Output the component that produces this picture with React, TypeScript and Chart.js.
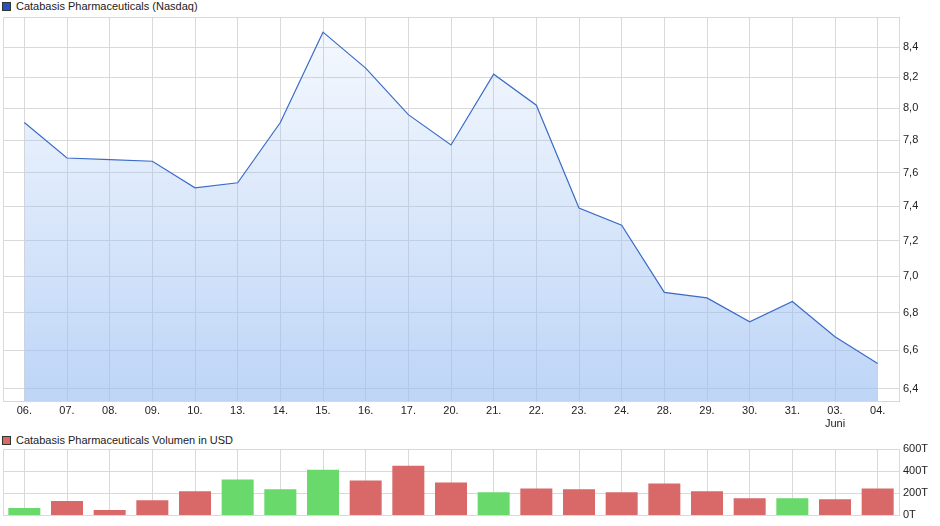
import React, { useEffect, useRef } from "react";
import { Chart, registerables } from "chart.js";

Chart.register(...registerables);

const categories: (string | string[])[] = [
  "06.", "07.", "08.", "09.", "10.", "13.", "14.", "15.", "16.", "17.", "20.",
  "21.", "22.", "23.", "24.", "28.", "29.", "30.", "31.", ["03.", "Juni"], "04.",
];
const prices = [
  7.91, 7.69, 7.68, 7.67, 7.51, 7.54, 7.91, 8.5, 8.26, 7.96, 7.77,
  8.22, 8.02, 7.39, 7.29, 6.91, 6.88, 6.75, 6.86, 6.67, 6.53,
];
const volumesT = [
  67, 129, 49, 138, 218, 324, 236, 413, 316, 449, 298,
  209, 244, 236, 209, 289, 218, 156, 156, 147, 244,
];
const volumeUp = [
  true, false, false, false, false, true, true, true, false, false, false,
  true, false, false, false, false, false, false, true, false, false,
];
const priceTicks = [6.4, 6.6, 6.8, 7.0, 7.2, 7.4, 7.6, 7.8, 8.0, 8.2, 8.4];
const priceMin = 6.338;
const priceMax = 8.603;
const volumeTicks = [0, 200000, 400000, 600000];

const FONT = "'Liberation Sans', Arial, sans-serif";
const GRID = "#d9d9d9";
const TEXT = "#222222";
const LINE = "#3a6cc8";
const RED = "#d96868";
const GREEN = "#68d96a";

const frame = {
  id: "frame",
  beforeDatasetsDraw(chart: any) {
    const { ctx, chartArea: a } = chart;
    ctx.save();
    ctx.strokeStyle = GRID;
    ctx.lineWidth = 1;
    ctx.beginPath();
    ctx.moveTo(Math.round(a.left) + 0.5, Math.round(a.bottom) + 0.5);
    ctx.lineTo(Math.round(a.left) + 0.5, Math.round(a.top) + 0.5);
    ctx.lineTo(Math.round(a.right) + 0.5, Math.round(a.top) + 0.5);
    ctx.stroke();
    ctx.restore();
  },
};

function Legend({ color, text, top }: { color: string; text: string; top: number }) {
  return (
    <div
      style={{
        position: "absolute",
        left: 2,
        top,
        height: 12,
        display: "flex",
        alignItems: "center",
        fontFamily: FONT,
        fontSize: 11,
        color: TEXT,
        whiteSpace: "nowrap",
      }}
    >
      <span
        style={{
          display: "inline-block",
          width: 7,
          height: 7,
          background: color,
          border: "1px solid #333",
          marginRight: 5,
        }}
      />
      <span>{text}</span>
    </div>
  );
}

export default function App() {
  const priceRef = useRef<HTMLCanvasElement>(null);
  const volRef = useRef<HTMLCanvasElement>(null);

  useEffect(() => {
    document.body.style.margin = "0";
    Chart.defaults.font.family = FONT;
    Chart.defaults.font.size = 11;
    Chart.defaults.color = TEXT;

    const priceChart = new Chart(priceRef.current!, {
      type: "line",
      data: {
        labels: categories,
        datasets: [
          {
            data: prices,
            borderColor: LINE,
            borderWidth: 1.2,
            pointRadius: 0,
            tension: 0,
            fill: "start",
            backgroundColor: (ctx: any) => {
              const { chart } = ctx;
              const a = chart.chartArea;
              if (!a) return "rgba(155,191,243,0.5)";
              const g = chart.ctx.createLinearGradient(0, a.top, 0, a.bottom);
              g.addColorStop(0, "rgba(155,191,243,0.08)");
              g.addColorStop(1, "rgba(155,191,243,0.66)");
              return g;
            },
          },
        ],
      },
      options: {
        animation: false,
        responsive: false,
        maintainAspectRatio: false,
        layout: { padding: { left: 3, top: 17, right: 0, bottom: 3 } },
        plugins: { legend: { display: false }, tooltip: { enabled: false } },
        scales: {
          x: {
            type: "category",
            offset: true,
            grid: { offset: false, color: GRID, drawTicks: false },
            border: { color: GRID },
            ticks: { padding: 3, maxRotation: 0, autoSkip: false, color: TEXT },
            afterFit: (s: any) => {
              s.height = 26;
            },
          },
          y: {
            type: "logarithmic",
            position: "right",
            bounds: "data",
            min: priceMin,
            max: priceMax,
            grid: { color: GRID, drawTicks: false },
            border: { color: GRID },
            afterBuildTicks: (s: any) => {
              s.ticks = priceTicks.map((v) => ({ value: v }));
              s.min = priceMin;
              s.max = priceMax;
            },
            ticks: {
              padding: 4,
              color: TEXT,
              callback: (v: any) => Number(v).toFixed(1).replace(".", ","),
            },
            afterFit: (s: any) => {
              s.width = 41;
            },
          },
        },
      },
      plugins: [frame],
    } as any);

    const volChart = new Chart(volRef.current!, {
      type: "bar",
      data: {
        labels: categories,
        datasets: [
          {
            data: volumesT.map((v) => v * 1000),
            backgroundColor: volumeUp.map((u) => (u ? GREEN : RED)),
            categoryPercentage: 1,
            barPercentage: 0.75,
          },
        ],
      },
      options: {
        animation: false,
        responsive: false,
        maintainAspectRatio: false,
        layout: { padding: { left: 3, top: 19, right: 0, bottom: 9 } },
        plugins: { legend: { display: false }, tooltip: { enabled: false } },
        scales: {
          x: {
            type: "category",
            offset: true,
            grid: { offset: false, color: GRID, drawTicks: false },
            border: { color: GRID },
            ticks: { display: false },
            afterFit: (s: any) => {
              s.height = 0;
            },
          },
          y: {
            position: "right",
            min: 0,
            max: 600000,
            grid: { color: GRID, drawTicks: false },
            border: { color: GRID },
            afterBuildTicks: (s: any) => {
              s.ticks = volumeTicks.map((v) => ({ value: v }));
            },
            ticks: {
              padding: 4,
              color: TEXT,
              callback: (v: any) => Math.round(Number(v) / 1000) + "T",
            },
            afterFit: (s: any) => {
              s.width = 41;
            },
          },
        },
      },
      plugins: [frame],
    } as any);

    return () => {
      priceChart.destroy();
      volChart.destroy();
    };
  }, []);

  return (
    <div style={{ position: "relative", width: 940, height: 526, background: "#fff", overflow: "hidden" }}>
      <Legend color="#2255bb" text="Catabasis Pharmaceuticals (Nasdaq)" top={0} />
      <canvas
        ref={priceRef}
        width={940}
        height={430}
        style={{ position: "absolute", left: 0, top: 0, width: 940, height: 430 }}
      />
      <Legend color={RED} text="Catabasis Pharmaceuticals Volumen in USD" top={434} />
      <canvas
        ref={volRef}
        width={940}
        height={96}
        style={{ position: "absolute", left: 0, top: 430, width: 940, height: 96 }}
      />
    </div>
  );
}
